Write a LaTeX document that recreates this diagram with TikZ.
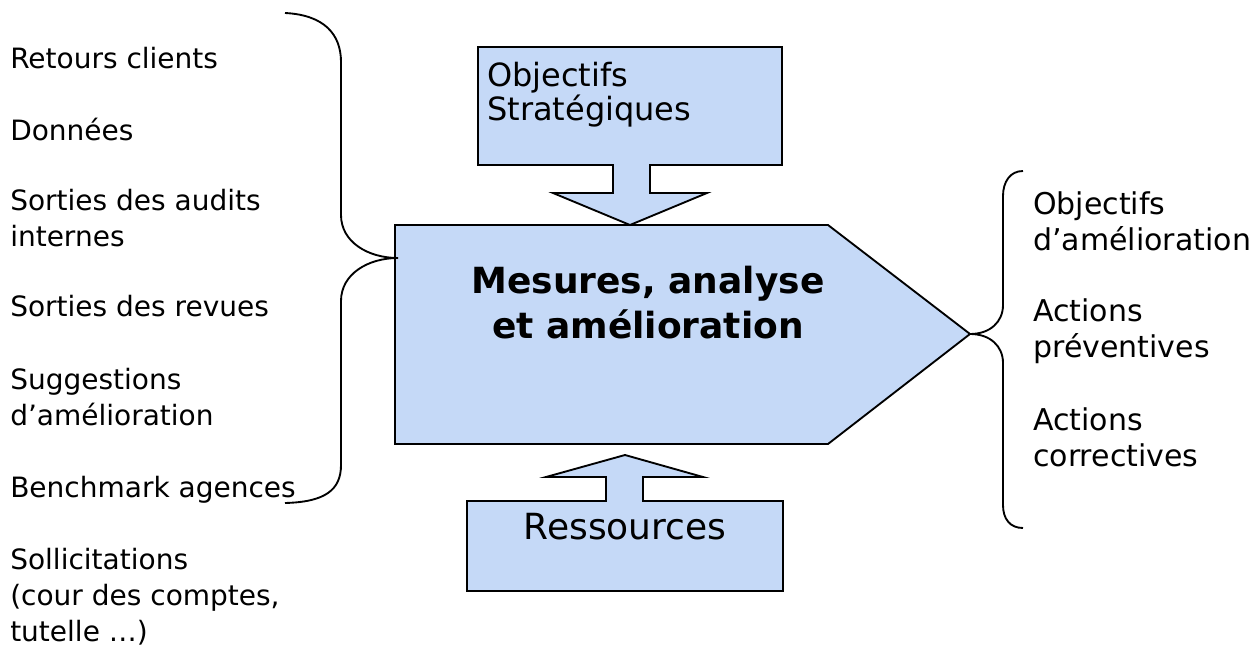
\documentclass[tikz,border=0pt]{standalone}
\usepackage{fontspec}
\setmainfont{DejaVu Sans}
\definecolor{boxblue}{RGB}{197,217,247}
\begin{document}
\begin{tikzpicture}[
	x=0.75pt, y=-0.75pt,
	blockshape/.style={draw=black, fill=boxblue, line width=1.4pt, line join=miter},
	brace/.style={draw=black, line width=1.4pt},
	item/.style={anchor=base west, align=left, inner sep=0pt, font=\fontsize{21}{27}\selectfont},
	bigitem/.style={item, font=\fontsize{22.5}{27}\selectfont},
	title/.style={anchor=base, align=center, inner sep=0pt, font=\bfseries\fontsize{27}{34}\selectfont}
	]
	\useasboundingbox (0,0) rectangle (1259,648);
	% shapes
	\draw[blockshape] (395,225) -- (828,225) -- (970,334) -- (828,444) -- (395,444) -- cycle;
	\draw[blockshape] (478,47) -- (782,47) -- (782,165) -- (650,165) -- (650,193) -- (707,193)
		-- (630,225) -- (553,193) -- (613,193) -- (613,165) -- (478,165) -- cycle;
	\draw[blockshape] (467,591) -- (467,501) -- (606,501) -- (606,477) -- (546,477) -- (625,455)
		-- (703,477) -- (643,477) -- (643,501) -- (783,501) -- (783,591) -- cycle;
	% base anchor of a multi-line node = last line
	\node[item, font=\fontsize{24}{26}\selectfont] (objstrat) at (487,121) {Objectifs\\Stratégiques};
	\node[title] (mesures) at (648,339) {Mesures, analyse\\et amélioration};
	\node[anchor=base, inner sep=0pt, font=\fontsize{27}{30}\selectfont] (ressources) at (625,539) {Ressources};
	% inputs
	\node[item] (retours) at (10,69) {Retours clients};
	\node[item] (donnees) at (10,141) {Données};
	\node[item] (audits) at (10,247) {Sorties des audits\\internes};
	\node[item] (revues) at (10,317) {Sorties des revues};
	\node[item] (suggestions) at (10,425) {Suggestions\\d’amélioration};
	\node[item] (benchmark) at (10,497) {Benchmark agences};
	\node[item] (sollicitations) at (10,641) {Sollicitations\\(cour des comptes,\\tutelle …)};
	% outputs
	\node[bigitem] (objamel) at (1033,251) {Objectifs\\d’amélioration};
	\node[bigitem] (preventives) at (1033,358) {Actions\\préventives};
	\node[bigitem] (correctives) at (1033,466) {Actions\\correctives};
	% braces
	\coordinate (lefttip) at (398,258);
	\coordinate (righttip) at (970,334);
	\draw[brace] (285,13) .. controls (325,15) and (341,35) .. (341,62) -- (341,215)
		.. controls (341,242) and (368,258) .. (lefttip)
		.. controls (368,258) and (341,274) .. (341,301) -- (341,465)
		.. controls (341,490) and (325,502) .. (285,503);
	\draw[brace] (1023,171) .. controls (1010,171) and (1003,182) .. (1003,196) -- (1003,305)
		.. controls (1003,322) and (990,334) .. (righttip)
		.. controls (990,334) and (1003,346) .. (1003,363) -- (1003,505)
		.. controls (1003,519) and (1010,528) .. (1023,528);
\end{tikzpicture}
\end{document}
